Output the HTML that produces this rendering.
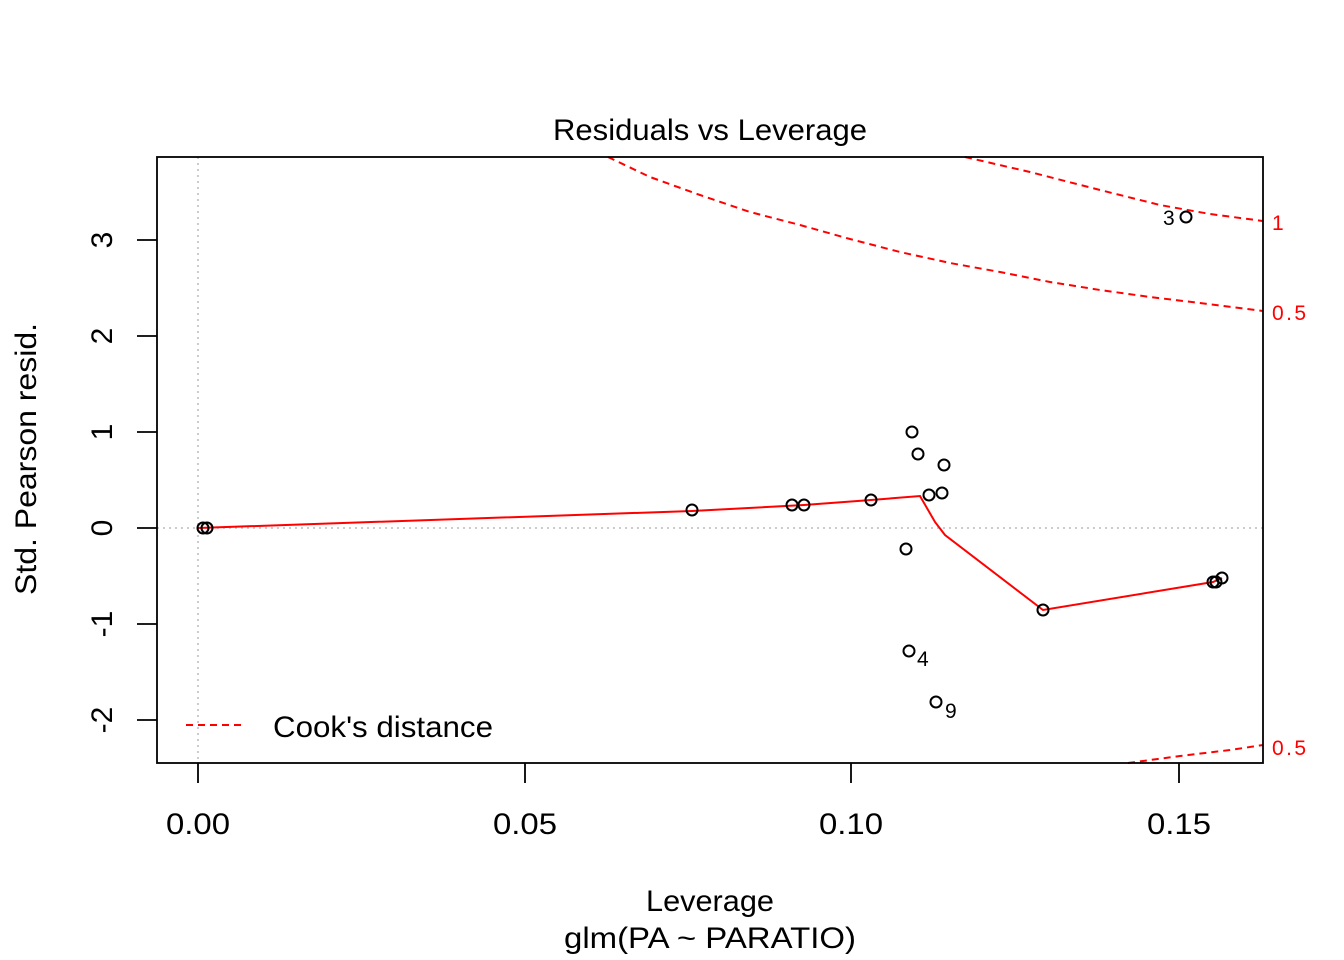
<!DOCTYPE html>
<html><head><style>body{margin:0;background:#fff}svg{display:block}</style></head><body>
<svg width="1344" height="960" viewBox="0 0 1344 960" font-family="Liberation Sans, Arial, sans-serif">
<rect width="1344" height="960" fill="#fff"/>
<line x1="198" y1="157" x2="198" y2="763" stroke="#bbb" stroke-dasharray="2,4" stroke-width="1.5"/>
<line x1="157" y1="528" x2="1263" y2="528" stroke="#bbb" stroke-dasharray="2,4" stroke-width="1.5"/>
<g fill="none" stroke="#f00" stroke-width="2" stroke-dasharray="7,5">
<polyline points="608,157 650,177 700,195 750,212 800,225 850,239 900,252 950,263 1000,272 1050,282 1100,290 1150,297 1200,303 1263,311"/>
<polyline points="965,157 1030,172 1100,190 1160,205 1210,214 1263,221"/>
<polyline points="1128,763 1180,756 1230,750 1263,745"/>
<line x1="186" y1="725" x2="246" y2="725"/>
</g>
<polyline fill="none" stroke="#f00" stroke-width="2" points="198,528 692,511 804,505 871,500 920,496 935,522 945,535 1043,610 1213,582 1222,578"/>
<g fill="none" stroke="#000" stroke-width="2">
<circle cx="203" cy="528" r="5.5"/><circle cx="207" cy="528" r="5.5"/><circle cx="692" cy="510" r="5.5"/>
<circle cx="792" cy="505" r="5.5"/><circle cx="804" cy="505" r="5.5"/><circle cx="871" cy="500" r="5.5"/>
<circle cx="912" cy="432" r="5.5"/><circle cx="918" cy="454" r="5.5"/><circle cx="944" cy="465" r="5.5"/>
<circle cx="929" cy="495" r="5.5"/><circle cx="942" cy="493" r="5.5"/><circle cx="906" cy="549" r="5.5"/>
<circle cx="1043" cy="610" r="5.5"/><circle cx="1213" cy="582" r="5.5"/><circle cx="1216" cy="582" r="5.5"/>
<circle cx="1222" cy="578" r="5.5"/><circle cx="909" cy="651" r="5.5"/><circle cx="936" cy="702" r="5.5"/>
<circle cx="1186" cy="217" r="5.5"/>
</g>
<g fill="none" stroke="#000" stroke-width="1.8">
<rect x="157" y="157" width="1106" height="606"/>
<path d="M198 763v20M525 763v20M851 763v20M1179 763v20M157 240h-20M157 336h-20M157 432h-20M157 528h-20M157 624h-20M157 720h-20"/>
</g>
<g font-size="21">
<text x="1163" y="225">3</text><text x="917" y="666">4</text><text x="945" y="718">9</text>
</g>
<g font-size="21" fill="#f00">
<text x="1272" y="230">1</text><text x="1272" y="320" textLength="34">0.5</text><text x="1272" y="755" textLength="34">0.5</text>
</g>
<g font-size="30" text-anchor="middle">
<text x="710" y="140" textLength="314" lengthAdjust="spacingAndGlyphs">Residuals vs Leverage</text>
<text x="198" y="834" textLength="64" lengthAdjust="spacingAndGlyphs">0.00</text><text x="525" y="834" textLength="64" lengthAdjust="spacingAndGlyphs">0.05</text><text x="851" y="834" textLength="64" lengthAdjust="spacingAndGlyphs">0.10</text><text x="1179" y="834" textLength="64" lengthAdjust="spacingAndGlyphs">0.15</text>
<text x="710" y="911" textLength="128" lengthAdjust="spacingAndGlyphs">Leverage</text><text x="710" y="948" textLength="292" lengthAdjust="spacingAndGlyphs">glm(PA ~ PARATIO)</text>
<g transform="rotate(-90)">
<text x="-240" y="112">3</text><text x="-336" y="112">2</text><text x="-432" y="112">1</text><text x="-528" y="112">0</text><text x="-624" y="112">-1</text><text x="-720" y="112">-2</text>
<text x="-459" y="36" textLength="272" lengthAdjust="spacingAndGlyphs">Std. Pearson resid.</text>
</g>
</g>
<text x="273" y="737" font-size="30" textLength="220" lengthAdjust="spacingAndGlyphs">Cook's distance</text>
</svg>
</body></html>
